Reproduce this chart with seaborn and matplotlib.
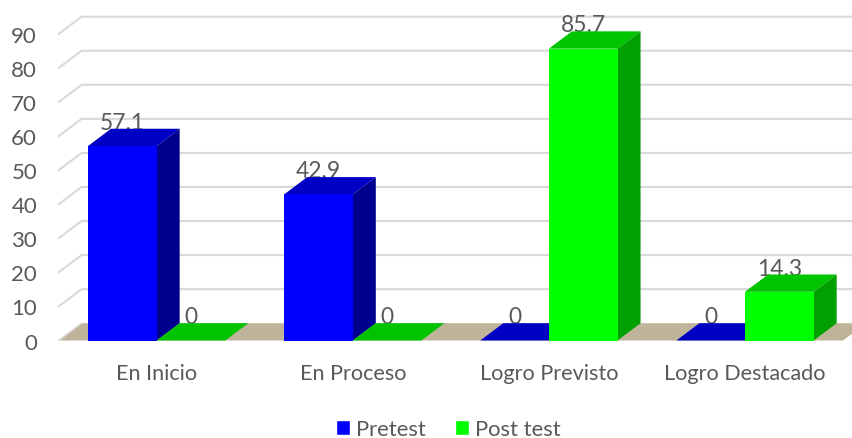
import matplotlib
matplotlib.use("Agg")
import matplotlib.pyplot as plt
from matplotlib.patches import Polygon
import pandas as pd
import seaborn as sns

categories = ["En Inicio", "En Proceso", "Logro Previsto", "Logro Destacado"]
pretest = [57.1, 42.9, 0, 0]
post_test = [0, 0, 85.7, 14.3]
series_names = ["Pretest", "Post test"]
y_ticks = [0, 10, 20, 30, 40, 50, 60, 70, 80, 90]

FRONT = {"Pretest": "#0000FF", "Post test": "#00FF00"}
TOP = {"Pretest": "#0000C4", "Post test": "#00C400"}
SIDE = {"Pretest": "#00008F", "Post test": "#00A000"}
FLOOR = "#BFB49A"
GRID = "#D9D9D9"
TEXT = "#595959"

W, H = 853, 439
sns.set_theme(style="white")
plt.rcParams["font.family"] = ["Lato", "DejaVu Sans"]

df = pd.DataFrame({
    "category": categories * 2,
    "value": pretest + post_test,
    "series": [series_names[0]] * 4 + [series_names[1]] * 4,
})

fig = plt.figure(figsize=(W / 100, H / 100), dpi=100, facecolor="white")
left, right, bottom, top = 58.6, 843.1, 341.5, 35
ax = fig.add_axes([left / W, 1 - bottom / H, (right - left) / W, (bottom - top) / H])

sns.barplot(data=df, x="category", y="value", hue="series", order=categories,
            hue_order=series_names, palette=FRONT, saturation=1, width=0.7, gap=0,
            ax=ax, legend=True)
ax.set_xlim(-0.5, 3.5)
ax.set_ylim(0, 90)

# oblique depth of the 3-D box, in data units
DX = 23 / ((right - left) / 4)
DY = 17.3 / ((bottom - top) / 90)
X_END = 3.5 + DX

floor = Polygon([(-0.5, 0), (3.5, 0), (X_END, DY), (-0.5 + DX, DY)],
                closed=True, fc=FLOOR, ec="none", zorder=0.5, clip_on=False)
ax.add_patch(floor)
for t in y_ticks[1:]:
    ax.plot([-0.5, -0.5 + DX, X_END], [t, t + DY, t + DY], color=GRID, lw=1.5,
            zorder=1, clip_on=False, solid_joinstyle="miter")
ax.plot([-0.5, -0.5 + DX], [0, DY], color=GRID, lw=1.0, zorder=1, clip_on=False)

for k, (name, container) in enumerate(zip(series_names, ax.containers)):
    base_z = 3 + k
    for bar in container:
        x0, w, h = bar.get_x(), bar.get_width(), bar.get_height()
        x1 = x0 + w
        bar.set_zorder(base_z + 0.1)
        bar.set_edgecolor("none")
        bar.set_linewidth(0)
        bar.set_clip_on(False)
        ax.add_patch(Polygon([(x0, h), (x1, h), (x1 + DX, h + DY), (x0 + DX, h + DY)],
                             closed=True, fc=TOP[name], ec="none", zorder=base_z, clip_on=False))
        if h > 0:
            ax.add_patch(Polygon([(x1, 0), (x1 + DX, DY), (x1 + DX, h + DY), (x1, h)],
                                 closed=True, fc=SIDE[name], ec="none", zorder=base_z, clip_on=False))
        ax.text(x0 + w / 2, h + DY, f"{h:g}", ha="center", va="baseline",
                fontsize=16.4, color=TEXT, zorder=2, clip_on=False)

ax.set_xlabel("")
ax.set_ylabel("")
ax.set_yticks(y_ticks)
ax.tick_params(axis="y", length=0, pad=15.5, labelsize=16, labelcolor=TEXT)
ax.tick_params(axis="x", length=0, pad=16, labelsize=15.6, labelcolor=TEXT)
sns.despine(ax=ax, left=True, bottom=True)
ax.patch.set_alpha(0)
ax.grid(False)

sns.move_legend(ax, "center", bbox_to_anchor=(448.5 / W, 1 - 430 / H),
                bbox_transform=fig.transFigure, ncol=2, frameon=False, title=None,
                fontsize=15.8, handlelength=0.64, handleheight=0.64,
                handletextpad=0.3, columnspacing=1.3, labelcolor=TEXT)

fig.savefig("out.png", dpi=100, facecolor="white")
